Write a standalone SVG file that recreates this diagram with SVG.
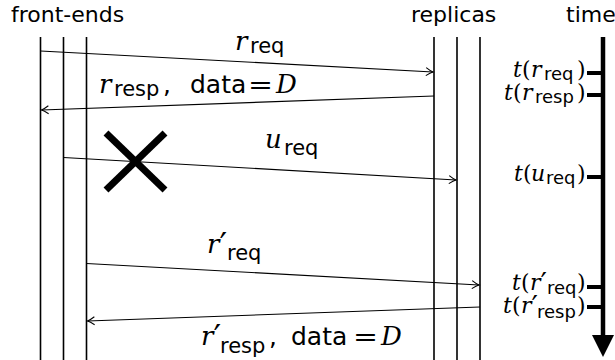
<svg xmlns="http://www.w3.org/2000/svg" width="615" height="360" viewBox="0 0 615 360">
<style>
.hd{font-family:"DejaVu Sans",sans-serif;font-size:22px;fill:#000}
.sf{font-family:"DejaVu Sans",sans-serif;font-size:25px;fill:#000}
.sub{font-family:"DejaVu Sans",sans-serif;font-size:21px;fill:#000}
.mi{font-family:"DejaVu Serif",serif;font-style:italic;font-size:26px;fill:#000}
.tmi{font-family:"DejaVu Serif",serif;font-style:italic;font-size:22px;fill:#000}
.tr{font-family:"DejaVu Serif",serif;font-size:22px;fill:#000}
.tsub{font-family:"DejaVu Sans",sans-serif;font-size:18px;fill:#000}
.pr{font-family:"DejaVu Sans",sans-serif;font-style:normal;font-size:1.3em}
.life{stroke:#000;stroke-width:1.6;fill:none}
.msg{stroke:#000;stroke-width:1.1;fill:none;marker-end:url(#arr)}
.tick{stroke:#000;stroke-width:4;fill:none}
</style>
<defs>
<marker id="arr" markerUnits="userSpaceOnUse" viewBox="-8 -5 10 10" refX="0" refY="0" markerWidth="10" markerHeight="10" orient="auto">
<path d="M -7 -4 Q -2.5 -0.8 0 0 Q -2.5 0.8 -7 4" fill="none" stroke="#000" stroke-width="1.1"/>
</marker>
</defs>
<rect width="615" height="360" fill="#fff"/>

<g id="front-ends">
<text class="hd" x="11" y="22">front-ends</text>
<line class="life" x1="40.5" y1="37" x2="40.5" y2="360"/>
<line class="life" x1="63.5" y1="37" x2="63.5" y2="360"/>
<line class="life" x1="86.5" y1="37" x2="86.5" y2="360"/>
</g>

<g id="replicas">
<text class="hd" x="411" y="22">replicas</text>
<line class="life" x1="434" y1="37" x2="434" y2="360"/>
<line class="life" x1="457" y1="37" x2="457" y2="360"/>
<line class="life" x1="480" y1="37" x2="480" y2="360"/>
</g>

<g id="time">
<text class="hd" x="566" y="22">time</text>
<line x1="603" y1="37" x2="603" y2="336" stroke="#000" stroke-width="4.5"/>
<polygon points="592,335 614,335 603,357" fill="#000"/>
<line class="tick" x1="587" y1="73" x2="603" y2="73"/>
<line class="tick" x1="587" y1="95" x2="603" y2="95"/>
<line class="tick" x1="587" y1="177" x2="603" y2="177"/>
<line class="tick" x1="587" y1="287" x2="603" y2="287"/>
<line class="tick" x1="587" y1="307" x2="603" y2="307"/>
<text><tspan class="tmi" x="513" y="77">t</tspan><tspan class="tr" x="522" y="77">(</tspan><tspan class="tmi" x="531" y="77">r</tspan><tspan class="tsub" x="544" y="80">req</tspan><tspan class="tr" x="577" y="77">)</tspan></text>
<text><tspan class="tmi" x="504" y="100">t</tspan><tspan class="tr" x="513" y="100">(</tspan><tspan class="tmi" x="522" y="100">r</tspan><tspan class="tsub" x="535" y="103">resp</tspan><tspan class="tr" x="577" y="100">)</tspan></text>
<text><tspan class="tmi" x="514" y="181">t</tspan><tspan class="tr" x="523" y="181">(</tspan><tspan class="tmi" x="531" y="181">u</tspan><tspan class="tsub" x="546" y="184">req</tspan><tspan class="tr" x="577" y="181">)</tspan></text>
<text><tspan class="tmi" x="512" y="290">t</tspan><tspan class="tr" x="521" y="290">(</tspan><tspan class="tmi" x="530" y="290">r<tspan class="pr" dy="3">′</tspan></tspan><tspan class="tsub" x="547" y="294">req</tspan><tspan class="tr" x="577" y="290">)</tspan></text>
<text><tspan class="tmi" x="503" y="313">t</tspan><tspan class="tr" x="512" y="313">(</tspan><tspan class="tmi" x="521" y="313">r<tspan class="pr" dy="3">′</tspan></tspan><tspan class="tsub" x="537" y="318">resp</tspan><tspan class="tr" x="577" y="313">)</tspan></text>
</g>

<g id="crash">
<line x1="106" y1="133" x2="165" y2="190" stroke="#000" stroke-width="7"/>
<line x1="165" y1="133" x2="106" y2="190" stroke="#000" stroke-width="7"/>
</g>

<g id="connectors">
<line class="msg" x1="40.5" y1="51" x2="433" y2="72"/>
<line class="msg" x1="434" y1="96" x2="41.5" y2="110"/>
<line class="msg" x1="63.5" y1="157.5" x2="456" y2="180"/>
<line class="msg" x1="86.5" y1="263.5" x2="479" y2="285"/>
<line class="msg" x1="480" y1="307" x2="87.5" y2="321"/>
</g>

<g id="labels">
<text><tspan class="mi" x="235" y="50">r</tspan><tspan class="sub" x="250" y="53">req</tspan></text>
<text><tspan class="mi" x="99" y="93">r</tspan><tspan class="sub" x="114" y="96">resp</tspan><tspan class="sf" x="163" y="93">,</tspan><tspan class="sf" x="190" y="93">data</tspan><tspan class="sf" x="248" y="93" textLength="25" lengthAdjust="spacingAndGlyphs">=</tspan><tspan class="mi" x="276" y="93">D</tspan></text>
<text><tspan class="mi" x="265" y="148">u</tspan><tspan class="sub" x="284" y="155">req</tspan></text>
<text><tspan class="mi" x="207" y="253">r<tspan class="pr" dy="4">′</tspan></tspan><tspan class="sub" x="227" y="260">req</tspan></text>
<text><tspan class="mi" x="201" y="345">r<tspan class="pr" dy="4">′</tspan></tspan><tspan class="sub" x="220" y="353">resp</tspan><tspan class="sf" x="269" y="345">,</tspan><tspan class="sf" x="291" y="345">data</tspan><tspan class="sf" x="353" y="345" textLength="25" lengthAdjust="spacingAndGlyphs">=</tspan><tspan class="mi" x="381" y="345">D</tspan></text>
</g>
</svg>
